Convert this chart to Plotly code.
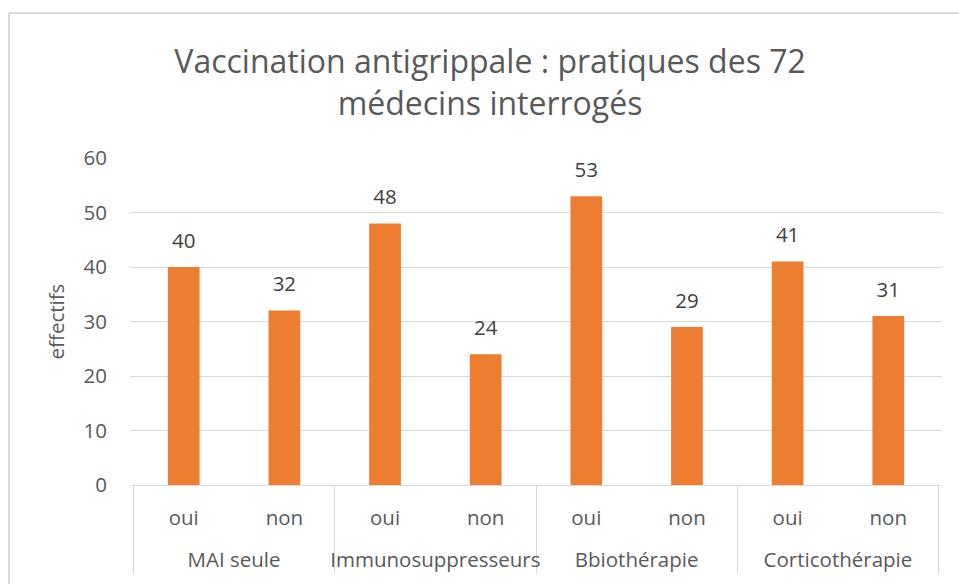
import plotly.graph_objects as go

groups = ["MAI seule", "MAI seule", "Immunosuppresseurs", "Immunosuppresseurs",
          "Bbiothérapie", "Bbiothérapie", "Corticothérapie", "Corticothérapie"]
answers = ["oui", "non", "oui", "non", "oui", "non", "oui", "non"]
values = [40, 32, 48, 24, 53, 29, 41, 31]

title_text = "Vaccination antigrippale : pratiques des 72<br>médecins interrogés"
y_title = "effectifs"
y_ticks = [0, 10, 20, 30, 40, 50, 60]

FONT = "Open Sans"
TXT = "#595959"
GRID = "#D9D9D9"
BAR = "#ED7D31"
FS = 20.5

group_labels = ["<br>" + g for g in groups]
x_cats = [group_labels, answers]

fig = go.Figure()
fig.add_trace(go.Bar(
    x=x_cats, y=values,
    marker=dict(color=BAR, line=dict(width=0)),
    width=0.315,
    showlegend=False, hoverinfo="y",
))
fig.add_trace(go.Scatter(
    x=x_cats, y=values,
    mode="markers+text",
    text=[str(v) for v in values],
    textposition="top center",
    marker=dict(size=21, color="rgba(0,0,0,0)"),
    textfont=dict(family=FONT, size=FS, color="#404040"),
    showlegend=False, hoverinfo="skip", cliponaxis=False,
))

fig.update_layout(
    width=959, height=584,
    margin=dict(l=130, r=17, t=158, b=99),
    paper_bgcolor="white", plot_bgcolor="white",
    title=dict(text=title_text, x=0.511, xref="container", xanchor="center",
               y=0.875, yanchor="top",
               font=dict(family=FONT, size=32, color=TXT)),
    font=dict(family=FONT, color=TXT),
    bargap=0.685,
)
fig.update_yaxes(
    range=[0, 60], tickvals=y_ticks, ticktext=[str(t) for t in y_ticks],
    showgrid=True, gridcolor=GRID, gridwidth=1.3, zeroline=False,
    tickfont=dict(family=FONT, size=FS, color=TXT),
    title=dict(text=y_title, font=dict(family=FONT, size=FS, color=TXT), standoff=13),
    ticks="", showline=False, automargin=False, ticklabelstandoff=22,
)
fig.update_xaxes(
    type="multicategory",
    showline=True, linecolor=GRID, linewidth=1.3,
    showdividers=True, dividercolor=GRID, dividerwidth=1.3,
    tickfont=dict(family=FONT, size=FS, color=TXT),
    ticks="", automargin=False, ticklabelstandoff=14,
)
# chart border (top and left edges)
fig.add_shape(type="line", xref="paper", yref="paper",
              x0=-0.149, x1=1.05, y0=1.4434, y1=1.4434,
              line=dict(color=GRID, width=2))
fig.add_shape(type="line", xref="paper", yref="paper",
              x0=-0.149, x1=-0.149, y0=1.4434, y1=-0.35,
              line=dict(color=GRID, width=2))

fig.write_html("out.html", config={"displayModeBar": False},
               post_script="document.body.style.margin='0';")
